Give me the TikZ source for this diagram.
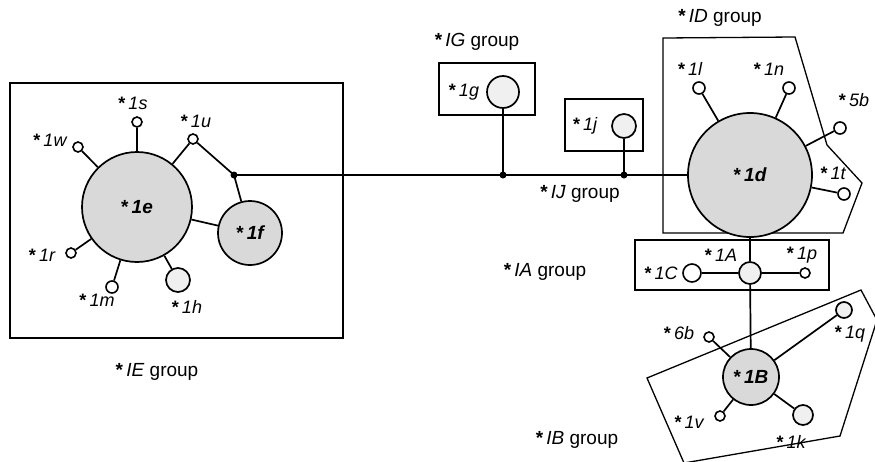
\documentclass[tikz,border=0pt]{standalone}
\usepackage{fontspec}
\setmainfont{Liberation Sans}
\newcommand{\myast}{\textbf{\upshape*}\,}
\begin{document}
\begin{tikzpicture}[x=1pt,y=-1pt,
  ln/.style={line width=1.7pt},
  big/.style={circle,draw,line width=1.7pt,fill=black!15,inner sep=0pt,font=\fontsize{19}{21}\selectfont\bfseries\itshape},
  mid/.style={circle,draw,line width=1.7pt,fill=black!6,inner sep=0pt},
  sat/.style={circle,draw,line width=1.6pt,fill=white,inner sep=0pt},
  lab/.style={font=\fontsize{18}{20}\selectfont\itshape,inner sep=0pt},
  grp/.style={font=\fontsize{19}{21}\selectfont,inner sep=0pt},
  jn/.style={circle,fill=black,inner sep=0pt,minimum size=7pt},
  box/.style={draw,line width=1.3pt}]
\useasboundingbox (0,0) rectangle (875,461);

% group outlines
\draw[box] (10,83) rectangle (343,338);
\draw[box] (439,63) rectangle (535,115);
\draw[box] (565,99) rectangle (643,151);
\draw[box] (663,38) -- (795,37) -- (827,145) -- (862,183) -- (843,233) -- (663,233) -- cycle;
\draw[box] (635,240) rectangle (829,290);
\draw[box] (647,378) -- (861,290) -- (877,320) -- (840,436) -- (684,463) -- cycle;

% IE group
\node[big,minimum size=110pt] (e) at (137,207) {\myast 1e};
\node[big,minimum size=64pt] (f) at (250,233) {\myast 1f};
\node[sat,minimum size=10pt] (u) at (193,139) {};
\node[sat,minimum size=10pt] (s) at (137,122) {};
\node[sat,minimum size=10pt] (w) at (78,147) {};
\node[sat,minimum size=10pt] (r) at (71,253) {};
\node[sat,minimum size=12pt] (m) at (112,287) {};
\node[mid,minimum size=24pt] (h) at (178,280) {};
\node[jn] (jE) at (234,175) {};

% IG / IJ
\node[mid,minimum size=32pt] (g) at (503,92) {};
\node[jn] (jG) at (503,175) {};
\node[mid,minimum size=24pt] (j) at (624,126) {};
\node[jn] (jJ) at (624,175) {};

% ID group
\node[big,minimum size=124pt] (d) at (750,175) {\myast 1d};
\node[sat,minimum size=12pt] (l) at (699,88) {};
\node[sat,minimum size=12pt] (n) at (789,88) {};
\node[sat,minimum size=12pt] (b5) at (840,128) {};
\node[sat,minimum size=12pt] (t) at (844,194) {};

% IA group
\node[mid,minimum size=22pt] (A) at (750,273) {};
\node[sat,minimum size=18pt] (C) at (692,273) {};
\node[sat,minimum size=10pt] (p) at (805,273) {};

% IB group
\node[big,minimum size=56pt] (B) at (751,377) {\myast 1B};
\node[sat,minimum size=10pt] (b6) at (709,337) {};
\node[mid,minimum size=16pt] (q) at (844,310) {};
\node[sat,minimum size=10pt] (v) at (720,416) {};
\node[mid,minimum size=20pt] (k) at (803,415) {};

% connectors
\draw[ln] (e) -- (s);
\draw[ln] (e) -- (w);
\draw[ln] (e) -- (u);
\draw[ln] (e) -- (r);
\draw[ln] (e) -- (m);
\draw[ln] (e) -- (h);
\draw[ln] (e) -- (f);
\draw[ln] (u) -- (jE.center) -- (f);
\draw[ln] (jE.center) -- (jG.center) -- (jJ.center) -- (d);
\draw[ln] (g) -- (jG.center);
\draw[ln] (j) -- (jJ.center);
\draw[ln] (d) -- (l);
\draw[ln] (d) -- (n);
\draw[ln] (d) -- (b5);
\draw[ln] (d) -- (t);
\draw[ln] (d) -- (A);
\draw[ln] (C) -- (A);
\draw[ln] (A) -- (p);
\draw[ln] (A) -- (B);
\draw[ln] (B) -- (b6);
\draw[ln] (B) -- (q);
\draw[ln] (B) -- (v);
\draw[ln] (B) -- (k);

% labels
\node[lab] (ls) at (133,103) {\myast 1s};
\node[lab] (lw) at (50,140) {\myast 1w};
\node[lab] (lu) at (196,121) {\myast 1u};
\node[lab] (lr) at (42,255) {\myast 1r};
\node[lab] (lm) at (97,300) {\myast 1m};
\node[lab] (lh) at (187,307) {\myast 1h};
\node[lab] (lg) at (464,92) {\myast 1g};
\node[lab] (lj) at (585,126) {\myast 1j};
\node[lab] (ll) at (690,69) {\myast 1l};
\node[lab] (ln) at (769,69) {\myast 1n};
\node[lab] (l5b) at (854,100) {\myast 5b};
\node[lab] (lt) at (833,173) {\myast 1t};
\node[lab] (lA) at (721,255) {\myast 1A};
\node[lab] (lp) at (802,255) {\myast 1p};
\node[lab] (lC) at (661,273) {\myast 1C};
\node[lab] (l6b) at (679,333) {\myast 6b};
\node[lab] (lq) at (850,334) {\myast 1q};
\node[lab] (lv) at (689,422) {\myast 1v};
\node[lab] (lk) at (791,442) {\myast 1k};

\node[grp] (gE) at (157,372) {\myast\textit{IE} group};
\node[grp] (gG) at (477,42) {\myast\textit{IG} group};
\node[grp] (gJ) at (580,194) {\myast\textit{IJ} group};
\node[grp] (gD) at (720,18) {\myast\textit{ID} group};
\node[grp] (gA) at (545,272) {\myast\textit{IA} group};
\node[grp] (gB) at (577,440) {\myast\textit{IB} group};
\end{tikzpicture}
\end{document}
